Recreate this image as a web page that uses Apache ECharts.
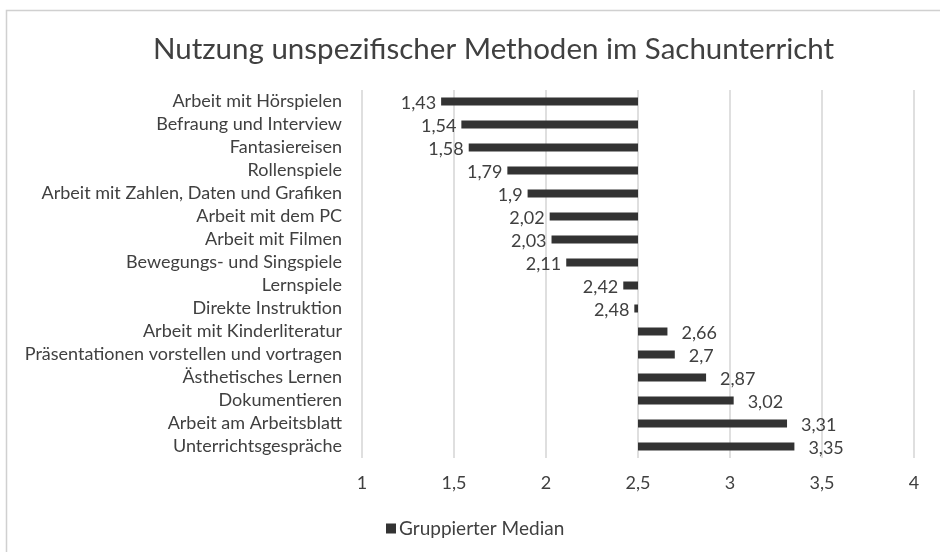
<!DOCTYPE html>
<html>
<head>
<meta charset="utf-8">
<script src="https://cdn.jsdelivr.net/npm/echarts@6/dist/echarts.min.js"></script>
<style>
  html, body { margin: 0; padding: 0; background: #fff; }
  #chart { width: 940px; height: 552px; }
</style>
</head>
<body>
<div id="chart"></div>
<script>
// Methoden von oben nach unten
var methoden = [
  'Arbeit mit Hörspielen',
  'Befraung und Interview',
  'Fantasiereisen',
  'Rollenspiele',
  'Arbeit mit Zahlen, Daten und Grafiken',
  'Arbeit mit dem PC',
  'Arbeit mit Filmen',
  'Bewegungs- und Singspiele',
  'Lernspiele',
  'Direkte Instruktion',
  'Arbeit mit Kinderliteratur',
  'Präsentationen vorstellen und vortragen',
  'Ästhetisches Lernen',
  'Dokumentieren',
  'Arbeit am Arbeitsblatt',
  'Unterrichtsgespräche'
];
var median = [1.43, 1.54, 1.58, 1.79, 1.9, 2.02, 2.03, 2.11, 2.42, 2.48, 2.66, 2.7, 2.87, 3.02, 3.31, 3.35];
var mitte = 2.5; // Balken gehen von hier aus
var xTicks = [1, 1.5, 2, 2.5, 3, 3.5, 4];

var fontName = 'Lato, "Open Sans", sans-serif';
var chart = echarts.init(document.getElementById('chart'));

var daten = median.map(function (v, i) { return [v, i]; });

function komma(v) {
  return String(v).replace('.', ',');
}

chart.setOption({
  backgroundColor: '#fff',
  animation: false,
  textStyle: { fontFamily: fontName },
  graphic: [{
    type: 'rect',
    shape: { x: 6.5, y: 10.5, width: 960, height: 560 },
    style: { fill: 'none', stroke: '#d0d0d0', lineWidth: 1.5 },
    silent: true
  }],
  title: {
    text: 'Nutzung unspezifischer Methoden im Sachunterricht',
    left: 148,
    top: 29,
    textStyle: { fontFamily: fontName, fontSize: 29.5, fontWeight: 'normal', color: '#404040' }
  },
  legend: {
    data: ['Gruppierter Median'],
    left: 381,
    top: 514,
    icon: 'rect',
    itemWidth: 10,
    itemHeight: 10,
    itemGap: 4,
    textStyle: { fontFamily: fontName, fontSize: 19, color: '#404040', padding: [0, 0, 0, -2] }
  },
  grid: { left: 362, right: 26, top: 90, bottom: 94 },
  xAxis: {
    type: 'value',
    min: 1,
    max: 4,
    interval: 0.5,
    axisLine: { show: false },
    axisTick: { show: false },
    splitLine: { lineStyle: { color: '#d4d4d4', width: 1.5 } },
    axisLabel: {
      margin: 16,
      fontSize: 18,
      color: '#404040',
      formatter: function (v) { return xTicks.indexOf(v) >= 0 ? komma(v) : ''; }
    }
  },
  yAxis: {
    type: 'category',
    data: methoden,
    inverse: true,
    axisLine: { show: false },
    axisTick: { show: false },
    splitLine: { show: false },
    axisLabel: { interval: 0, margin: 20, fontSize: 18, color: '#404040' }
  },
  series: [{
    name: 'Gruppierter Median',
    type: 'custom',
    itemStyle: { color: '#333333' },
    encode: { x: 0, y: 1 },
    data: daten,
    renderItem: function (params, api) {
      var v = api.value(0);
      var idx = api.value(1);
      var p0 = api.coord([mitte, idx]);
      var p1 = api.coord([v, idx]);
      var h = 8;
      var x0 = Math.min(p0[0], p1[0]);
      var w = Math.abs(p1[0] - p0[0]);
      var links = v < mitte;
      return {
        type: 'group',
        children: [{
          type: 'rect',
          shape: { x: x0, y: p0[1] - h / 2, width: Math.max(w, 2), height: h },
          style: { fill: '#333333' }
        }, {
          type: 'text',
          style: {
            text: komma(v),
            x: links ? p1[0] - 5 : p1[0] + 14,
            y: p0[1] + 2,
            align: links ? 'right' : 'left',
            verticalAlign: 'middle',
            fill: '#404040',
            font: '18px ' + fontName
          }
        }]
      };
    }
  }]
});
</script>
</body>
</html>
